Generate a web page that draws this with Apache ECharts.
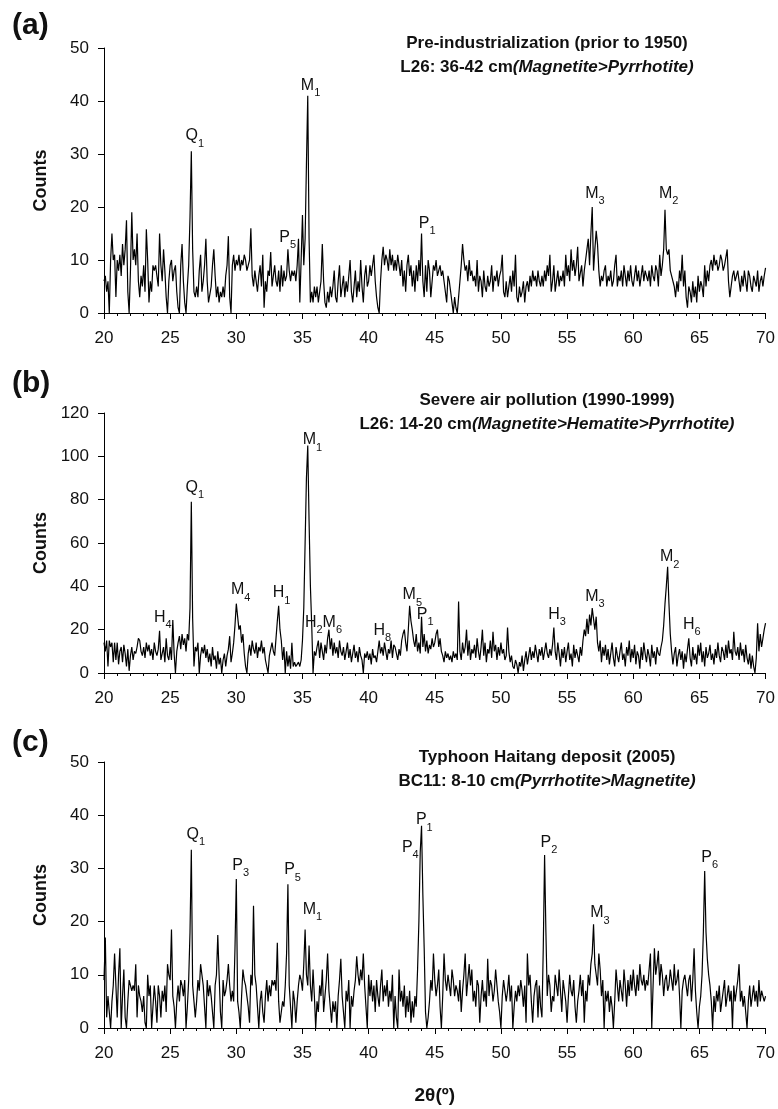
<!DOCTYPE html>
<html><head><meta charset="utf-8">
<script src="https://cdn.jsdelivr.net/npm/echarts@6/dist/echarts.min.js"></script>
<style>html,body{margin:0;padding:0;background:#fff}#c{width:778px;height:1109px}</style>
</head><body><div id="c"></div>
<script>
// 2-theta scan: 20.0 .. 70.0 deg, 0.1 deg step
const X_START = 20, X_STEP = 0.1;
const xTicks = {min: 20, max: 70, interval: 5};

// (a) Pre-industrialization
const countsA = [
6,7,4,6,0,10,15,10,11,3,
10,8,11,7,13,9,12,17.5,4,0,
8,19,10,12,9,15,6,3,7,5,
9,4,15.8,10,2,6,4,9,8,9,
7,5,15,9,6,12,8,3,0,6,
9,10,6,8,9,4,1,0,9,13,
6,2,0,5,9,18,30.5,12,4,3,
5,3,8,11,4,6,9,14,6,2,
2,5,9,12,7,3,5,2,4,3,
5,3,7,9,14.5,3,0,9,11,8,
10,9,11,8,10,9,11,10,8,9,
10,16,7,5,8,6,4,7,9,5,
11,1,6,4,8,7,11.5,5,7,9,
6,5,8,4,9,5,8,6,7,12,
8,6,8,7,8,6,9,14,2,10,
18.5,9,14,28,41,14,2,4,2,5,
3,5,2,4,6,13,6,2,1,4,
2,5,3,5,8,3,2,6,9,3,
5,7,3,6,4,7,10,4,2,5,
8,3,6,4,10,5,2,7,9,5,
6,9,7,9,11,6,3,1,0,6,
10,12.5,9,11,10,8,12,9,11,8,
10,8,11,9,7,10,5,8,4,9,
11,7,9,5,8,4,9,6,10,7,
15,6,3,9,4,10,8,3,6,9,
8,10,7,8,9,7,8,6,4,2,
7,6,4,2,0,3,1,0,3,6,
9,13,10,8,9,6,10,7,8,6,
7,5,10,4,7,6,3,8,5,4,
7,5,6,9,4,7,6,8,5,7,
8,11,4,3,6,3,5,7,4,8,
5,11,3,2,5,3,4,6,2,5,
6,4,7,5,8,6,7,5,8,6,
5,7,5,8,6,9,7,11,4,6,
9,4,6,8,5,7,6,8,5,11,
7,9,6,12,8,10,7,9,12.5,6,
6,9,5,8,10,12,14,9,15,20,
8,12,15.5,13,8,5,7,6,8,9,
5,7,6,8,5,6,9,11,5,7,
6,8,5,9,7,5,8,6,9,6,
5,7,9,6,8,5,7,9,6,8,
7,6,8,5,9,7,6,9,8,5,
11,7,9,12,19.5,12,11,12,8,7,
7,5,3,6,4,8,6,11,5,8,
3,1,5,4,2,6,3,5,2,7,
4,6,5,3,9,5,8,6,9,10,
8,11,9,10,8,9,11,10,8,9,
9,12,6,3,5,7,8,6,7,8,
6,4,7,5,8,6,4,8,7,5,
4,7,6,5,8,4,6,7,5,7,
8.5];

// (b) Severe air pollution
const countsB = [
14,10,15,3,15,12,14,5,14,6,
14,4,10,12,5,13,9,3,11,1,
8,12,6,10,9,12,16,15,10,8,
12,7,14,10,13,8,11,6,14,10,
8,11,19.5,6,9,12,5,16,8,6,
12,6,24.5,9,0,10,14,17,11,18,
13,16,10,18,15,30,79,25,3,12,
10,14,0,8,12,9,13,7,11,5,
9,3,12,6,8,2,10,4,7,0,
6,9,3,8,11,17,5,9,14,22,
32,26,20,22,14,18,9,3,0,9,
13,8,15,11,9,14,7,12,10,15,
9,12,6,3,0,8,11,14,10,8,
16,24,31,20,15,6,12,0,10,3,
8,2,14,3,5,3,4,5,3,6,
15,30,60,90,105,70,40,22,0,10,
8,12,15,7,14,10,6,13,9,16,
20,11,16,8,14,9,12,7,15,10,
8,12,6,10,14,7,11,5,9,13,
7,10,5,12,8,6,0,9,7,10,
6,9,4,11,7,8,5,10,15,9,
12,8,14,10,6,11,9,15,7,13,
12,9,6,11,8,15,18,20,14,10,
20,31,24,20,15,12,18,10,14,9,
26,12,18,10,15,9,13,11,16,12,
14,18,20,12,16,10,8,5,10,7,
9,6,8,5,10,7,9,6,33,10,
6,14,9,12,20,8,15,6,11,9,
13,7,16,10,6,12,20,8,14,5,
11,9,15,7,19,10,13,6,12,8,
14,9,11,6,8,21,10,5,8,3,
2,6,4,0,5,3,8,1,6,10,
4,8,12,6,10,7,13,9,5,11,
8,12,6,10,14,9,7,11,8,13,
21,10,6,14,9,3,11,7,12,5,
10,14,6,9,3,13,7,11,8,5,
12,8,15,20,17,25,18,27,22,30,
25,20,26,14,10,15,5,12,8,13,
6,11,4,9,14,7,3,12,8,5,
10,14,6,9,3,12,8,15,5,11,
7,13,4,10,8,2,12,6,14,9,
5,11,8,3,13,7,10,4,12,9,
8,12,15,22,32,40,49,32,18,10,
4,9,12,3,8,11,6,10,2,9,
5,11,16,7,3,12,6,9,4,13,
8,14,5,10,3,12,7,9,13,6,
9,4,11,7,14,8,5,12,10,6,
13,7,15,9,11,6,19,10,8,12,
6,14,8,11,5,13,7,4,9,2,
8,3,0,7,23,10,18,12,16,20,
23];

// (c) Typhoon Haitang deposit
const countsC = [
9,17,2,6,3,0,5,8,14,8,
2,10,15,0,6,11,2,0,5,9,
9,7,8,7,12,2,8,6,5,3,
6,1,0,10,6,8,0,4,8,5,
1,8,6,2,7,5,8,3,12,10,
9,18.5,6,4,0,5,8,5,9,8,
6,9,0,4,9,18,33.5,8,5,2,
5,9,7,12,10,8,4,0,9,6,
8,6,3,0,8,10,17.5,10,3,0,
9,6,7,9,12,8,5,7,5,15,
28,5,3,0,6,11,9,8,6,4,
1,10,8,23,10,8,4,0,5,7,
3,1,6,9,5,8,6,9,8,9,
7,16,5,1,3,5,4,8,14,27,
8,4,0,7,5,1,5,8,10,9,
7,12,18.5,10,8,15.5,8,5,11,6,
0,5,3,8,6,11,3,6,9,14,
7,4,1,5,3,5,0,6,9,13,
6,3,0,7,5,9,0,6,4,7,
9,13.5,10,8,11,9,14,8,4,0,
10,6,9,5,8,3,9,6,4,8,
11,5,8,6,9,4,7,5,10,0,
6,2,0,11,5,7,4,8,2,6,
3,7,1,5,2,6,4,11,20,33,
38,25,15,3,0,2,5,9,7,14,
9,6,8,11,4,0,6,14,9,7,
10,8,6,11,9,6,8,7,5,9,
3,7,10,14,6,9,12,8,11,5,
7,4,9,8,1,6,9,5,7,4,
13,6,9,8,5,7,11,8,5,3,
0,6,9,7,5,7,10,5,8,0,
4,7,5,8,6,9,7,4,8,1,
14,8,10,5,1,6,8,9,2,8,
4,2,15,32.5,18,6,10,8,3,6,
5,10,8,6,11,7,3,9,7,5,
1,6,10,7,6,9,4,1,5,7,
10,6,9,1,7,5,10,8,12,14,
19.5,12,10,8,14,11,6,9,0,7,
5,7,3,6,4,0,5,11,8,5,
9,7,5,11,8,4,9,6,10,7,
11,8,6,10,7,12,9,8,10,7,
9,8,11,14,0,8,15,10,12,14.5,
8,12,10,6,9,10,7,8,11,9,
7,12,8,9,11,6,0,7,9,10,
8,6,9,10,5,9,15,7,3,0,
4,6,10,18,29.5,18,13,10,8,5,
0,6,3,7,5,8,3,5,7,9,
4,6,8,5,7,0,8,5,7,9,
12,5,7,4,6,3,0,5,8,4,
6,8,5,7,4,9,5,7,6,5,
6];

// y-axis ranges
const yTicksA = {min: 0, max: 50, interval: 10};
const yTicksB = {min: 0, max: 120, interval: 20};
const yTicksC = {min: 0, max: 50, interval: 10};

// peak annotations: [label, 2theta, counts]  (label sits at this point)
const peaksA = [['Q1',26.86,33.4],['M1',35.61,43.0],['P5',33.88,14.2],['P1',44.43,16.8],['M3',57.10,22.6],['M2',62.68,22.6]];
const peaksB = [['H4',24.45,25.8],['Q1',26.86,85.8],['M4',30.33,38.3],['H1',33.42,36.9],['M1',35.76,107.5],['H2M6',36.59,23.1],['H8',41.04,19.8],['M5',43.30,36.0],['P1',44.28,26.8],['H3',54.24,26.8],['M3',57.10,35.1],['M2',62.76,53.5],['H6',64.42,22.2]];
const peaksC = [['Q1',26.94,36.3],['P3',30.33,30.6],['P5',34.25,29.7],['M1',35.76,22.2],['P4',43.15,34.0],['P1',44.21,39.1],['P2',53.63,34.8],['M3',57.48,21.6],['P6',65.78,32.1]];

// panel texts
const panelLetters = ['(a)','(b)','(c)'];
const titles = [
  ['Pre-industrialization (prior to 1950)', 'L26: 36-42 cm', '(Magnetite>Pyrrhotite)'],
  ['Severe air pollution (1990-1999)', 'L26: 14-20 cm', '(Magnetite>Hematite>Pyrrhotite)'],
  ['Typhoon Haitang deposit (2005)', 'BC11: 8-10 cm', '(Pyrrhotite>Magnetite)']
];
const yName = 'Counts';
const xName = '2θ(º)';

const FONT = '"Liberation Sans", Arial, Helvetica, sans-serif';
const INK = '#111';
const grids = [
  {left: 104, width: 663, top: 48, height: 265},
  {left: 104, width: 663, top: 413, height: 260},
  {left: 104, width: 663, top: 762, height: 266}
];
const yTicks = [yTicksA, yTicksB, yTicksC];
const counts = [countsA, countsB, countsC];
const peaks = [peaksA, peaksB, peaksC];
const titleTop = [31, 388, 745];
const letterPos = [[12, 11], [12, 369], [12, 728]];

function toPairs(arr) { return arr.map((v, i) => [+(X_START + i * X_STEP).toFixed(2), v]); }
function richLabel(t) { return t.replace(/([A-Z])(\d)/g, '{m|$1}{s|$2}'); }

const xAxis = [], yAxis = [], series = [], graphic = [];
for (let i = 0; i < 3; i++) {
  xAxis.push({
    type: 'value', gridIndex: i, min: xTicks.min, max: xTicks.max, interval: xTicks.interval,
    axisLine: {show: true, lineStyle: {color: '#000', width: 1}},
    axisTick: {show: true, inside: false, length: 6, lineStyle: {color: '#000'}},
    minorTick: {show: true, splitNumber: 5, length: 3, lineStyle: {color: '#000'}},
    splitLine: {show: false}, minorSplitLine: {show: false},
    axisLabel: {fontSize: 17, fontFamily: FONT, color: INK, margin: 17},
    name: i === 2 ? xName : '', nameLocation: 'middle', nameGap: 58,
    nameTextStyle: {fontSize: 19, fontWeight: 'bold', fontFamily: FONT, color: INK}
  });
  yAxis.push({
    type: 'value', gridIndex: i, min: yTicks[i].min, max: yTicks[i].max, interval: yTicks[i].interval,
    axisLine: {show: true, lineStyle: {color: '#000', width: 1}},
    axisTick: {show: true, inside: false, length: 6, lineStyle: {color: '#000'}},
    splitLine: {show: false},
    axisLabel: {fontSize: 17, fontFamily: FONT, color: INK, margin: 15},
    name: yName, nameLocation: 'middle', nameGap: 54,
    nameTextStyle: {fontSize: 18, fontWeight: 'bold', fontFamily: FONT, color: INK}
  });
  series.push({
    type: 'line', xAxisIndex: i, yAxisIndex: i, data: toPairs(counts[i]),
    symbol: 'none', showSymbol: false, lineStyle: {color: '#000', width: 1.2}, silent: true
  });
  series.push({
    type: 'scatter', xAxisIndex: i, yAxisIndex: i, symbolSize: 0, silent: true, z: 5,
    itemStyle: {color: '#000'},
    data: peaks[i].map(p => ({name: p[0], value: [p[1], p[2]]})),
    label: {
      show: true, position: 'inside', color: INK, opacity: 1, formatter: p => richLabel(p.name),
      rich: {
        m: {fontSize: 16, lineHeight: 26, fontFamily: FONT, color: INK},
        s: {fontSize: 11, lineHeight: 13, fontFamily: FONT, color: INK, verticalAlign: 'bottom'}
      }
    }
  });
  graphic.push({
    type: 'text', x: letterPos[i][0], y: letterPos[i][1], silent: true,
    style: {text: panelLetters[i], font: 'bold 30px ' + FONT, fill: '#111'}
  });
  graphic.push({
    type: 'text', x: 547, y: titleTop[i], silent: true,
    style: {
      text: '{b|' + titles[i][0] + '}\n{b|' + titles[i][1] + '}{i|' + titles[i][2] + '}',
      align: 'center', textAlign: 'center', verticalAlign: 'top', textVerticalAlign: 'top',
      rich: {
        b: {font: 'bold 17px ' + FONT, fill: INK, lineHeight: 24},
        i: {font: 'italic bold 17px ' + FONT, fill: INK, lineHeight: 24}
      }
    }
  });
}

const chart = echarts.init(document.getElementById('c'), null, {renderer: 'canvas'});
chart.setOption({
  animation: false,
  backgroundColor: '#fff',
  grid: grids,
  xAxis, yAxis, series, graphic
});
</script>
</body></html>
